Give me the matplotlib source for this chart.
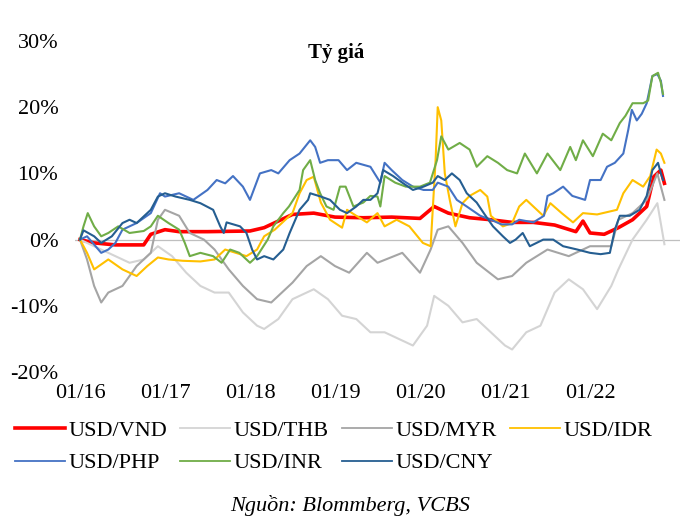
import matplotlib
matplotlib.use("Agg")
import matplotlib.pyplot as plt
from matplotlib.lines import Line2D

plt.rcParams['font.family'] = ['Liberation Serif', 'DejaVu Serif']

# ---- data: months since 01/2016, % change vs start ----
vnd_m = [0, 2, 5, 9, 10, 12, 14, 18, 24, 26, 28, 30, 33, 36, 40, 44, 48, 50, 52, 55, 58, 61, 64, 67, 70, 71, 72, 74, 76, 78, 80, 81, 82, 82.5]
vnd_v = [0, -0.5, -0.8, -0.8, 0.8, 1.5, 1.2, 1.2, 1.3, 1.8, 2.8, 3.8, 4.0, 3.4, 3.3, 3.4, 3.2, 5.0, 4.0, 3.3, 3.0, 2.6, 2.6, 2.2, 1.2, 2.8, 1.0, 0.8, 1.8, 3.0, 5.0, 9.5, 10.5, 8.5]

thb_m = [0, 2, 4, 7, 9, 11, 13, 15, 17, 19, 21, 23, 25, 26, 28, 30, 33, 35, 37, 39, 41, 43, 45, 47, 49, 50, 52, 54, 56, 58, 60, 61, 63, 65, 67, 69, 71, 73, 75, 76, 78, 80, 81.5, 82.5]
thb_v = [0, -1, -2, -3.5, -3, -1, -2.5, -5, -7, -8, -8, -11, -13, -13.5, -12, -9, -7.5, -9, -11.5, -12, -14, -14, -15, -16, -13, -8.5, -10, -12.5, -12, -14, -16, -16.6, -14, -13, -8, -6, -7.5, -10.5, -7, -4.5, 0, 3, 5.5, -0.7]

myr_m = [0, 1, 2, 3, 4, 6, 8, 10, 11, 12, 14, 15.5, 17.5, 19, 21, 23, 25, 27, 30, 32, 34, 36, 38, 40.5, 42, 45.5, 48, 49.5, 50.5, 52, 54, 56, 59, 61, 63, 66, 69, 72, 75, 76, 78, 80, 81.5, 82.5]
myr_v = [0, -3, -7, -9.5, -8, -7, -4, -2, 3, 4.5, 3.6, 1, 0, -1.5, -4.5, -7, -9, -9.5, -6.5, -4, -2.5, -4, -5, -2, -3.5, -2, -5, -1.5, 1.5, 2, -0.5, -3.5, -6, -5.5, -3.5, -1.5, -2.5, -1, -1, 3, 4, 6, 10, 6]

idr_m = [0, 1, 2, 4, 6, 8, 9.5, 11, 12.5, 14.5, 17, 19, 20.5, 23.5, 25, 26, 27.5, 29, 30, 31, 32, 33, 34, 35.3, 37, 37.7, 39, 40.5, 42, 43, 44.7, 46.5, 48.4, 49.5, 50.2, 50.5, 51, 51.5, 52.2, 53, 54, 55, 56.5, 57.5, 58, 59.7, 61, 62, 63, 64, 65.4, 66.4, 68, 69.6, 71, 73, 75.8, 76.7, 78, 79.5, 80.5, 81.4, 82, 82.5]
idr_v = [0, -2, -4.5, -3, -4.5, -5.5, -4, -2.7, -3, -3.2, -3.3, -3, -1.5, -2.5, -1.5, 0.5, 1.5, 3, 4, 7, 9, 9.5, 5.6, 3, 1.8, 4.5, 3.6, 2.6, 4, 2, 3, 2, -0.5, -1, 12, 20, 18, 10, 6, 2, 5.5, 6.6, 7.5, 6.5, 3.6, 2, 2.5, 5, 6, 5, 3.6, 5.5, 4, 2.6, 4, 3.8, 4.5, 7, 9, 8, 9.6, 13.6, 13, 11.6]

php_m = [0, 1, 3, 4, 5, 6, 8, 10, 11.3, 12, 14, 16, 18, 19.3, 20.5, 21.6, 23, 24, 25.4, 27, 28, 29.6, 31, 32.5, 33.2, 33.9, 35, 36.5, 37.7, 39, 41, 42.4, 43, 44, 45.5, 47, 48.5, 49.8, 50.5, 52, 53.2, 54.6, 56.5, 58, 59.5, 61, 62, 64, 65.5, 66, 66.8, 68.2, 69.5, 71.3, 72, 73.5, 74.4, 75.5, 76.7, 77.4, 77.9, 78.6, 79.3, 80, 80.8, 81.5, 82, 82.3]
php_v = [0, 0.5, -2, -1.5, -0.5, 1.5, 2.5, 4, 7, 6.5, 7, 6, 7.5, 9, 8.5, 9.6, 8, 6, 10, 10.5, 10, 12, 13, 15, 14, 11.6, 12, 12, 10.5, 11.6, 11, 8.6, 11.6, 10.5, 9, 8, 7.5, 7.5, 8.6, 8, 6, 5, 3.6, 3, 2.3, 2.3, 3, 2.6, 3.6, 6.6, 7, 8, 6.6, 6, 9, 9, 11, 11.6, 13, 16.6, 19.6, 18, 19, 20.6, 24.7, 25, 24, 21.7]

inr_m = [0, 0.5, 1.1, 2, 3, 4, 5.4, 7, 9, 10, 11, 12.5, 14, 14.8, 15.5, 17, 18.8, 20, 21.2, 22.5, 24, 25, 26.5, 27.3, 28.7, 29.5, 31, 31.5, 32.5, 33.2, 33.9, 34.8, 35.8, 36.7, 37.5, 38.6, 40, 41, 42, 42.4, 43, 44.5, 46, 48, 49.4, 50.4, 51, 52, 53.6, 55, 56, 57.5, 59, 60.3, 61.7, 62.8, 64.5, 66, 67.8, 69.2, 70, 71, 72.4, 73.8, 75, 76.2, 77, 78, 79.5, 80.2, 80.8, 81.6, 82, 82.3]
inr_v = [0, 2, 4, 2, 0.5, 1, 2, 1, 1.3, 2, 3.6, 2.5, 1.5, -0.5, -2.5, -2, -2.5, -3.5, -1.5, -2, -3.5, -2.5, 0, 2, 4, 5, 7.5, 10.5, 12, 9, 7, 5, 4.5, 8, 8, 5, 5.6, 6.6, 6.5, 5, 9.6, 8.6, 8, 8, 8.6, 12, 15.6, 13.6, 14.6, 13.6, 11, 12.6, 11.6, 10.5, 10, 13, 10, 13, 10.5, 14, 12, 15, 12.6, 16, 15, 17.6, 18.7, 20.6, 20.6, 21, 24.7, 25.2, 23.7, 22]

cny_m = [0, 0.5, 2, 3, 4.5, 6, 7, 8, 9, 10, 11, 12, 13.5, 15.5, 17, 18.8, 19.8, 20.3, 20.7, 22.6, 23.5, 24.3, 25, 26, 27.3, 28.7, 29.6, 31, 32.2, 32.5, 34, 35.3, 36.7, 37.7, 39, 40, 41, 42, 42.8, 44.2, 45.5, 47, 48.5, 49.8, 50.5, 51.5, 52.5, 53.6, 54.6, 56, 57, 58.3, 59.7, 60.7, 61.5, 62.5, 63.5, 65.4, 66.8, 68.2, 70.2, 72, 73.5, 74.8, 75.5, 76.2, 77.6, 79, 80, 80.8, 81.6, 82, 82.3]
cny_v = [0, 1.4, 0.5, -0.5, 0.5, 2.5, 3, 2.5, 3.5, 4.5, 6.5, 7, 6.5, 6, 5.5, 4.5, 2, 1, 2.6, 2, 1, -1.5, -3, -2.5, -3, -1.5, 1, 4.5, 6, 7, 6.5, 6, 4.5, 4, 5, 6, 6, 7, 10.5, 9.6, 8.6, 7.5, 8, 8.6, 9.6, 9, 10, 9, 7, 5.6, 4, 2, 0.5, -0.5, 0, 1, -1, 0, 0, -1, -1.5, -2, -2.2, -2, 1.5, 3.6, 3.6, 4.5, 6.6, 10.5, 11.6, 10, 9]

series_names = ["USD/VND", "USD/THB", "USD/MYR", "USD/IDR", "USD/PHP", "USD/INR", "USD/CNY"]
series_colors = ["#FF0000", "#D4D4D4", "#A5A5A5", "#FFC000", "#4472C4", "#70AD47", "#255E91"]
series_widths = [2.6, 1.5, 1.5, 1.5, 1.5, 1.5, 1.5]

xtick_pos = [0, 12, 24, 36, 48, 60, 72]
xtick_labels = ["01/16", "01/17", "01/18", "01/19", "01/20", "01/21", "01/22"]
ytick_pos = [-20, -10, 0, 10, 20, 30]
ytick_labels = ["-20%", "-10%", "0%", "10%", "20%", "30%"]

data = [(vnd_m, vnd_v), (thb_m, thb_v), (myr_m, myr_v), (idr_m, idr_v),
        (php_m, php_v), (inr_m, inr_v), (cny_m, cny_v)]

W, H = 700, 527
fig = plt.figure(figsize=(W / 100, H / 100), dpi=100)
ax = fig.add_axes([75 / W, 1 - 372 / H, 605 / W, 331 / H])

ax.axhline(0, color="#BFBFBF", lw=0.9, zorder=1)
for (m, v), name, c, lw in zip(data, series_names, series_colors, series_widths):
    ax.plot(m, v, color=c, lw=lw, label=name, zorder=2, solid_joinstyle='round')

ax.set_xlim(-0.7, 84.7)
ax.set_ylim(-20, 30)
ax.set_xticks(xtick_pos)
ax.set_xticklabels(xtick_labels)
ax.set_yticks(ytick_pos)
ax.set_yticklabels(ytick_labels)
ax.tick_params(axis='both', length=0, labelsize=16, colors='black')
ax.tick_params(axis='x', pad=9)
ax.tick_params(axis='y', pad=12)
for s in ax.spines.values():
    s.set_visible(False)

ax.text((336 - 75) / 605, 1 - 12 / 331, "Tỷ giá", transform=ax.transAxes,
        ha='center', va='center', fontsize=15, fontweight='bold')

# legend: row1 VND THB MYR IDR, row2 PHP INR CNY (column-major fill)
order = [0, 4, 1, 5, 2, 6, 3]
leg_handles = [Line2D([], [], color=series_colors[i], lw=(2.6 if i == 0 else 1.3)) for i in order]
leg_labels = [series_names[i] for i in order]
fig.legend(leg_handles, leg_labels, ncol=4, loc='upper left',
           bbox_to_anchor=(15 / W, 1 - 420 / H), frameon=False, fontsize=16,
           handlelength=2.25, handletextpad=0.15, columnspacing=0.6,
           labelspacing=0.55, borderpad=0, borderaxespad=0)

fig.text(0.5, 1 - 505 / H, "Nguồn: Blommberg, VCBS", ha='center', va='center',
         fontsize=16, style='italic')

fig.savefig("out.png", dpi=100)
